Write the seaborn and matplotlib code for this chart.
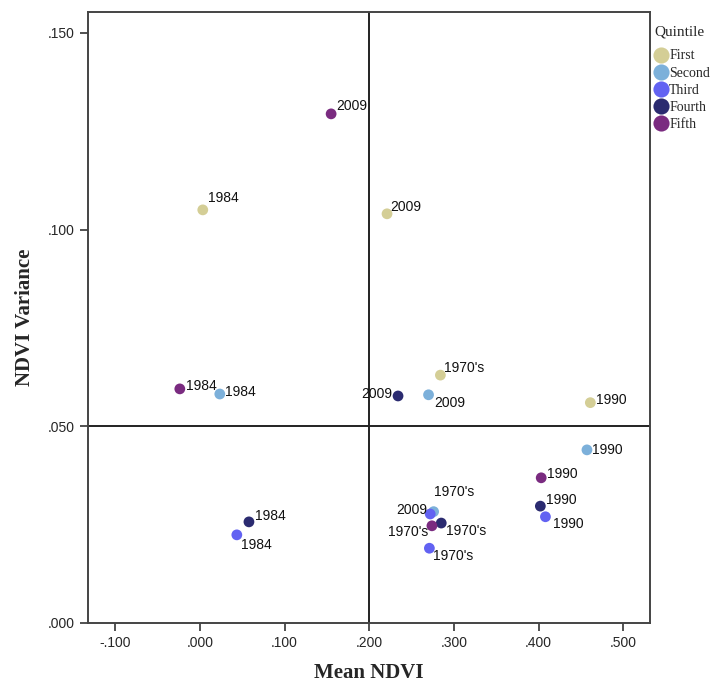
"""plot.py
Quadrant scatter of NDVI variance against mean NDVI by quintile.
"""

import matplotlib.pyplot as plt
import matplotlib.ticker as mticker
import seaborn as sns
import pandas as pd

# Data
quintile = ['First'] * 4 + ['Second'] * 4 + ['Third'] * 4 + ['Fourth'] * 4 + ['Fifth'] * 4
period = ["1970's", '1984', '1990', '2009'] * 5
mean_ndvi = [0.284, 0.0035, 0.461, 0.221,
             0.276, 0.0236, 0.457, 0.270,
             0.271, 0.0437, 0.408, 0.272,
             0.285, 0.058, 0.402, 0.234,
             0.274, -0.0236, 0.403, 0.155]
ndvi_var = [0.063, 0.105, 0.056, 0.104,
            0.0283, 0.0582, 0.044, 0.058,
            0.019, 0.0224, 0.027, 0.0277,
            0.0254, 0.0257, 0.0297, 0.0577,
            0.0247, 0.0595, 0.0369, 0.1294]
quintile_order = ['First', 'Second', 'Third', 'Fourth', 'Fifth']
x_ticks = [-0.1, 0.0, 0.1, 0.2, 0.3, 0.4, 0.5]
y_ticks = [0.0, 0.05, 0.1, 0.15]

# Styles
palette = {'First': '#d4ce96', 'Second': '#7cb0da', 'Third': '#6262f2',
           'Fourth': '#2b2b70', 'Fifth': '#7a2b80'}
# label offsets in pixels (dx, dy, ha)
label_offsets = [(4, 7, 'left'), (5, 12, 'left'), (6, 3, 'left'), (3, 7, 'left'),
                 (0, 20, 'left'), (5, 2, 'left'), (5, 0, 'left'), (6, -8, 'left'),
                 (4, -8, 'left'), (4, -10, 'left'), (8, -7, 'left'), (-3, 4, 'right'),
                 (5, -8, 'left'), (6, 6, 'left'), (6, 6, 'left'), (-6, 2, 'right'),
                 (-4, -6, 'right'), (6, 3, 'left'), (6, 4, 'left'), (5, 8, 'left')]

df = pd.DataFrame({'Quintile': quintile, 'Period': period,
                   'Mean NDVI': mean_ndvi, 'NDVI Variance': ndvi_var})

sns.set_style('white')
serif = ['Liberation Serif', 'DejaVu Serif']
sans = ['Liberation Sans', 'DejaVu Sans']

fig = plt.figure(figsize=(7.23, 6.84), dpi=100)
ax = fig.add_axes([0.1217, 0.0892, 0.778, 0.8933])

# Reference lines
ax.axvline(0.2, color='#222222', lw=1.4, zorder=1)
ax.axhline(0.05, color='#222222', lw=1.4, zorder=1)

# Scatter
sns.scatterplot(data=df, x='Mean NDVI', y='NDVI Variance', hue='Quintile',
                hue_order=quintile_order, palette=palette, s=60,
                edgecolor='none', ax=ax, zorder=3)

# Point labels
for i, row in df.iterrows():
    dx, dy, ha = label_offsets[i]
    ax.annotate(row['Period'], (row['Mean NDVI'], row['NDVI Variance']),
                xytext=(dx, dy), textcoords='offset pixels', ha=ha,
                va='center', fontsize=10, family=sans, color='#111111',
                zorder=4)

# Axes
ax.set_xlim(-0.132, 0.532)
ax.set_ylim(0.0, 0.1553)
ax.set_xticks(x_ticks)
ax.set_yticks(y_ticks)
fmt = mticker.FuncFormatter(
    lambda v, pos: ('-' if v < -1e-9 else '') + f'{abs(v):.3f}'.lstrip('0'))
ax.xaxis.set_major_formatter(fmt)
ax.yaxis.set_major_formatter(fmt)
ax.tick_params(axis='both', direction='out', length=6, width=1.2,
               color='#333333', labelsize=10, left=True, bottom=True)
for lab in ax.get_xticklabels() + ax.get_yticklabels():
    lab.set_family(sans)
for sp in ax.spines.values():
    sp.set_color('#444444')
    sp.set_linewidth(1.4)

ax.set_xlabel('Mean NDVI', fontsize=15, fontweight='bold', family=serif,
              labelpad=9)
ax.set_ylabel('NDVI Variance', fontsize=15, fontweight='bold', family=serif,
              labelpad=9)

# Legend
handles, labels = ax.get_legend_handles_labels()
leg = ax.legend(handles, labels, title='Quintile', loc='upper left',
                bbox_to_anchor=(1.0, 0.985), frameon=False,
                handlelength=0.9, handletextpad=0.15, labelspacing=0.3,
                borderaxespad=0.1, borderpad=0.2, markerscale=1.5,
                prop={'family': serif, 'size': 10},
                title_fontproperties={'family': serif, 'size': 11})
leg._legend_box.align = 'left'
leg._legend_box.sep = 8

fig.savefig('out.png', dpi=100)
